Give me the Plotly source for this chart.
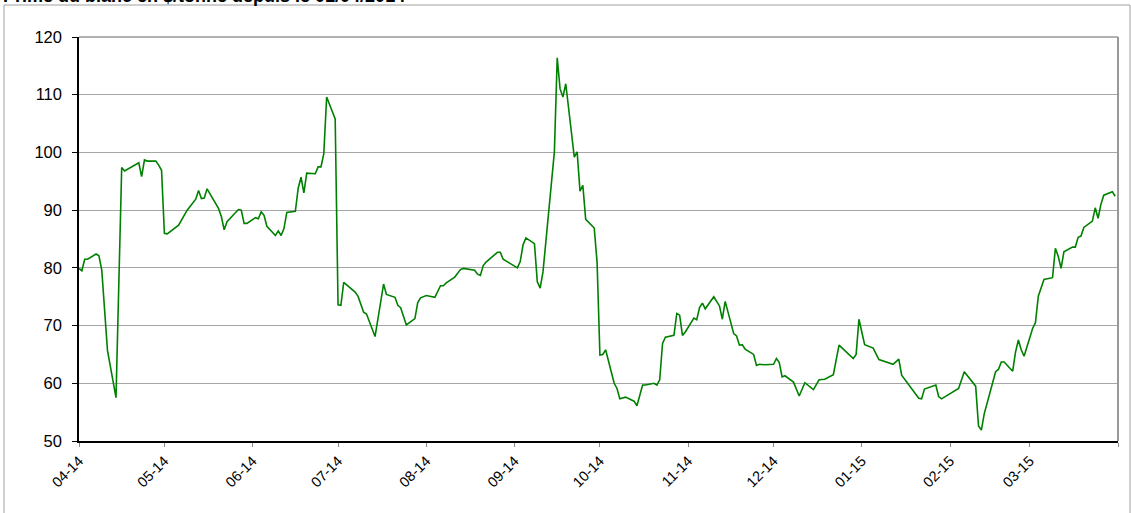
import plotly.graph_objects as go

title_text = "Prime du blanc en $/tonne depuis le 01/04/2014"

dates = [
    "2014-04-01", "2014-04-02", "2014-04-03", "2014-04-04", "2014-04-07", "2014-04-08", "2014-04-09",
    "2014-04-11", "2014-04-14", "2014-04-16", "2014-04-17", "2014-04-22", "2014-04-23", "2014-04-24",
    "2014-04-25", "2014-04-28", "2014-04-29", "2014-04-30", "2014-05-01", "2014-05-02", "2014-05-06",
    "2014-05-09", "2014-05-12", "2014-05-13", "2014-05-14", "2014-05-15", "2014-05-16", "2014-05-20",
    "2014-05-21", "2014-05-22", "2014-05-23", "2014-05-27", "2014-05-28", "2014-05-29", "2014-05-30",
    "2014-06-02", "2014-06-03", "2014-06-04", "2014-06-05", "2014-06-06", "2014-06-09", "2014-06-10",
    "2014-06-11", "2014-06-12", "2014-06-13", "2014-06-16", "2014-06-17", "2014-06-18", "2014-06-19",
    "2014-06-20", "2014-06-23", "2014-06-24", "2014-06-25", "2014-06-26", "2014-06-27", "2014-06-30",
    "2014-07-01", "2014-07-02", "2014-07-03", "2014-07-07", "2014-07-08", "2014-07-10", "2014-07-11",
    "2014-07-14", "2014-07-17", "2014-07-18", "2014-07-21", "2014-07-22", "2014-07-23", "2014-07-25",
    "2014-07-28", "2014-07-29", "2014-07-30", "2014-08-01", "2014-08-04", "2014-08-06", "2014-08-07",
    "2014-08-08", "2014-08-11", "2014-08-13", "2014-08-14", "2014-08-18", "2014-08-19", "2014-08-20",
    "2014-08-21", "2014-08-22", "2014-08-26", "2014-08-27", "2014-08-28", "2014-09-02", "2014-09-03",
    "2014-09-04", "2014-09-05", "2014-09-08", "2014-09-09", "2014-09-10", "2014-09-11", "2014-09-13",
    "2014-09-15", "2014-09-16", "2014-09-17", "2014-09-18", "2014-09-19", "2014-09-22", "2014-09-23",
    "2014-09-24", "2014-09-25", "2014-09-26", "2014-09-29", "2014-09-30", "2014-10-01", "2014-10-02",
    "2014-10-03", "2014-10-06", "2014-10-07", "2014-10-08", "2014-10-10", "2014-10-13", "2014-10-14",
    "2014-10-16", "2014-10-17", "2014-10-20", "2014-10-21", "2014-10-22", "2014-10-23", "2014-10-24",
    "2014-10-27", "2014-10-28", "2014-10-29", "2014-10-30", "2014-10-31", "2014-11-03", "2014-11-04",
    "2014-11-05", "2014-11-06", "2014-11-07", "2014-11-10", "2014-11-12", "2014-11-13", "2014-11-14",
    "2014-11-17", "2014-11-18", "2014-11-19", "2014-11-20", "2014-11-21", "2014-11-24", "2014-11-25",
    "2014-11-26", "2014-11-28", "2014-12-01", "2014-12-02", "2014-12-03", "2014-12-04", "2014-12-05",
    "2014-12-08", "2014-12-10", "2014-12-12", "2014-12-15", "2014-12-17", "2014-12-19", "2014-12-22",
    "2014-12-24", "2014-12-29", "2014-12-30", "2014-12-31", "2015-01-02", "2015-01-05", "2015-01-07",
    "2015-01-12", "2015-01-14", "2015-01-15", "2015-01-21", "2015-01-22", "2015-01-23", "2015-01-27",
    "2015-01-28", "2015-01-29", "2015-02-04", "2015-02-06", "2015-02-10", "2015-02-11", "2015-02-12",
    "2015-02-13", "2015-02-17", "2015-02-18", "2015-02-19", "2015-02-20", "2015-02-23", "2015-02-24",
    "2015-02-25", "2015-02-26", "2015-02-27", "2015-03-02", "2015-03-03", "2015-03-04", "2015-03-06",
    "2015-03-09", "2015-03-10", "2015-03-11", "2015-03-12", "2015-03-13", "2015-03-16", "2015-03-17",
    "2015-03-18", "2015-03-19", "2015-03-20", "2015-03-23", "2015-03-24", "2015-03-25", "2015-03-26",
    "2015-03-27", "2015-03-30", "2015-03-31",
]

prime = [
    79.9, 79.5, 81.5, 81.5, 82.4, 82.1, 79.6,
    65.7, 57.5, 97.4, 96.8, 98.2, 95.8, 98.7,
    98.5, 98.5, 97.8, 96.9, 86.0, 85.9, 87.4,
    90.0, 91.9, 93.4, 92.0, 92.1, 93.7, 90.3,
    88.9, 86.6, 88.0, 90.1, 90.0, 87.7, 87.7,
    88.7, 88.5, 89.7, 89.1, 87.2, 85.6, 86.4,
    85.6, 86.8, 89.6, 89.8, 93.8, 95.7, 93.0,
    96.4, 96.3, 97.5, 97.5, 99.8, 109.6, 105.8,
    73.6, 73.5, 77.5, 75.8, 75.1, 72.3, 72.0,
    68.1, 77.2, 75.4, 74.9, 73.5, 73.1, 70.1,
    71.2, 74.0, 74.8, 75.2, 74.9, 76.9, 76.9,
    77.4, 78.4, 79.7, 79.9, 79.6, 78.9, 78.7,
    80.4, 81.0, 82.7, 82.7, 81.5, 80.0, 81.1,
    84.0, 85.2, 84.2, 77.6, 76.5, 79.3, 90.0,
    100.1, 116.4, 111.0, 109.6, 111.9, 99.2, 100.1,
    93.3, 94.3, 88.4, 86.9, 81.0, 64.9, 65.0,
    65.8, 60.0, 59.1, 57.3, 57.6, 56.9, 56.1,
    59.7, 59.7, 60.0, 59.7, 60.6, 66.9, 68.0,
    68.3, 72.1, 71.8, 68.3, 68.9, 71.3, 71.0,
    73.1, 73.9, 72.9, 75.0, 73.4, 71.1, 74.2,
    68.6, 68.2, 66.6, 66.7, 65.9, 65.0, 63.1,
    63.3, 63.2, 63.3, 64.3, 63.6, 61.1, 61.3,
    60.2, 57.8, 60.1, 58.9, 60.6, 60.7, 61.5,
    66.6, 64.3, 65.0, 71.1, 66.7, 66.1, 64.1,
    63.3, 64.2, 61.4, 57.4, 57.3, 59.0, 59.7,
    57.7, 57.3, 59.1, 62.0, 59.5, 52.6, 51.9,
    54.7, 62.0, 62.4, 63.7, 63.7, 62.1, 65.4,
    67.5, 65.8, 64.7, 69.5, 70.5, 75.1, 78.0,
    78.3, 83.4, 82.0, 79.9, 82.8, 83.6, 83.6,
    85.3, 85.5, 87.0, 88.1, 90.4, 88.6, 91.0,
    92.6, 93.2, 92.4,
]

tick_dates = [
    "2014-04-01", "2014-05-01", "2014-06-01", "2014-07-01", "2014-08-01", "2014-09-01",
    "2014-10-01", "2014-11-01", "2014-12-01", "2015-01-01", "2015-02-01", "2015-03-01", "2015-04-01",
]
tick_labels = [
    "04-14", "05-14", "06-14", "07-14", "08-14", "09-14",
    "10-14", "11-14", "12-14", "01-15", "02-15", "03-15", "",
]

FONT = "Liberation Sans, Arial, sans-serif"

fig = go.Figure()
fig.add_trace(go.Scatter(
    x=dates, y=prime, mode="lines",
    line=dict(color="#008000", width=1.6),
    showlegend=False, hoverinfo="x+y",
))

W, H = 1131, 513
L, R, T, B = 79, 13, 37, 72
pw, ph = W - L - R, H - T - B

fig.update_layout(
    width=W, height=H,
    margin=dict(l=L, r=R, t=T, b=B, pad=0),
    paper_bgcolor="white", plot_bgcolor="white",
    font=dict(family=FONT, color="black"),
    xaxis=dict(
        type="date",
        range=["2014-04-01", "2015-04-01"],
        tickmode="array", tickvals=tick_dates, ticktext=tick_labels,
        tickangle=-45, tickfont=dict(size=14.5, family=FONT, color="black"),
        ticks="outside", ticklen=4, tickcolor="#888888", tickwidth=1,
        showgrid=False, zeroline=False,
        showline=True, linecolor="black", linewidth=1.5,
    ),
    yaxis=dict(
        range=[50, 120], dtick=10, tick0=50,
        tickfont=dict(size=16.5, family=FONT, color="black"),
        ticks="outside", ticklen=5, tickcolor="black", tickwidth=1,
        ticklabelstandoff=7,
        showgrid=True, gridcolor="#a6a6a6", gridwidth=1,
        zeroline=False,
        showline=True, linecolor="black", linewidth=1.5,
    ),
    shapes=[
        dict(type="line", xref="paper", yref="paper", x0=0, x1=1, y0=1, y1=1,
             line=dict(color="#999999", width=1.5)),
        dict(type="line", xref="paper", yref="paper", x0=1, x1=1, y0=0, y1=1,
             line=dict(color="#999999", width=2)),
        dict(type="rect", xref="paper", yref="paper",
             x0=(4 - L) / pw, x1=(1130 - L) / pw,
             y0=-0.5, y1=1 + (T - 5) / ph,
             line=dict(color="#a0a0a0", width=1), fillcolor="rgba(0,0,0,0)", layer="below"),
    ],
    annotations=[
        dict(text="<b>" + title_text + "</b>", xref="paper", yref="paper",
             x=(1 - L) / pw, y=1 + (T - 8) / ph, xanchor="left", yanchor="bottom",
             showarrow=False, font=dict(size=18, family=FONT, color="black")),
    ],
)

fig.write_html(
    "out.html",
    config={"displayModeBar": False},
    post_script="document.body.style.margin='0';document.body.style.overflow='hidden';",
)
